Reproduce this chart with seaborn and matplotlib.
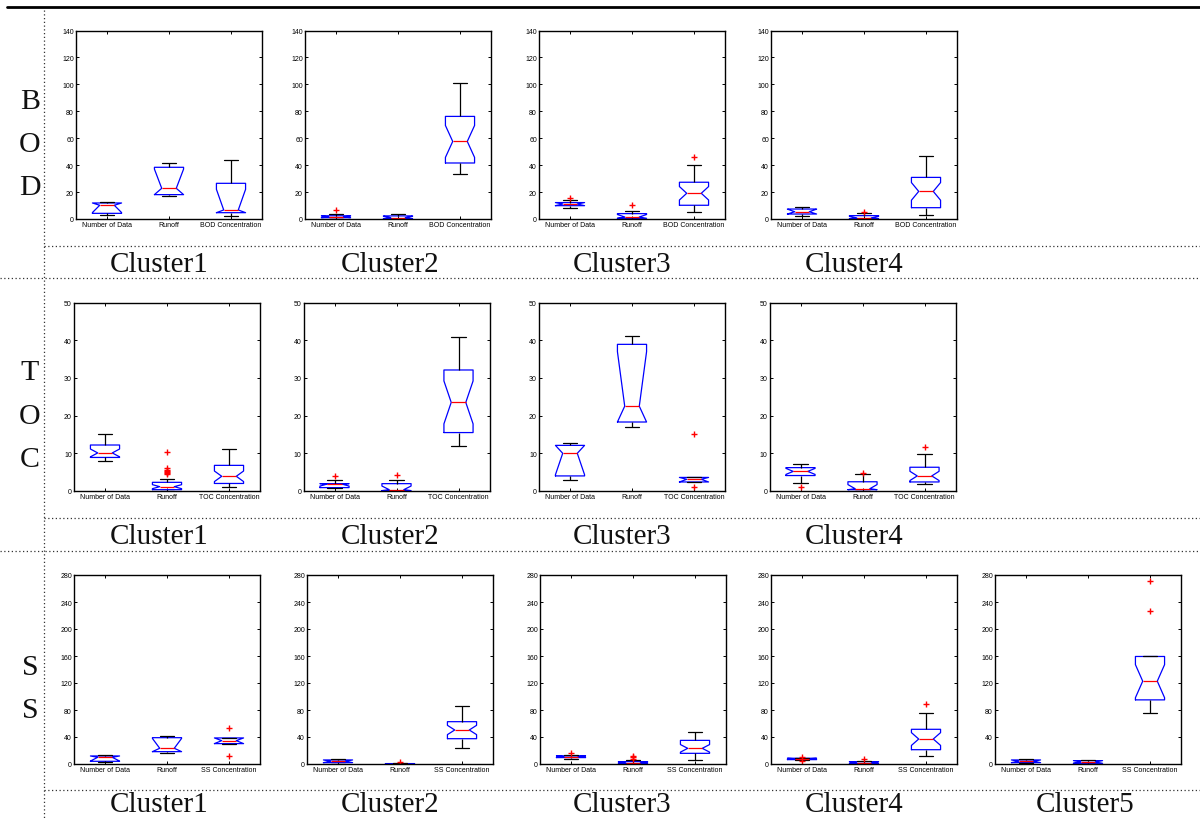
import matplotlib
matplotlib.use("Agg")
import matplotlib.pyplot as plt
import numpy as np
import pandas as pd
import seaborn as sns
from matplotlib.lines import Line2D

# ---------------- data ----------------
VAR_LABELS = ["Number of Data", "Runoff"]
ROW_NAMES = ["BOD", "TOC", "SS"]
ROW_YMAX = [140, 50, 280]
ROW_YSTEP = [20, 10, 40]
CLUSTER_NAMES = ["Cluster1", "Cluster2", "Cluster3", "Cluster4", "Cluster5"]

# BOD
bod_c1_number = [3.0, 4.2, 10.2, 11.9, 12.9]
bod_c1_runoff = [16.9, 18.1, 22.8, 38.4, 41.4]
bod_c1_conc = [2.0, 4.7, 6.7, 26.5, 44.1]

bod_c2_number = [0.2, 0.6, 1.0, 1.2, 1.5, 1.9, 2.4, 3.6, 6.9]
bod_c2_runoff = [0.0, 0.1, 0.3, 0.6, 1.0, 1.5, 2.3, 3.0, 3.5]
bod_c2_conc = [33.4, 35.0, 37.0, 39.0, 40.5, 41.6, 45.0, 49.0, 52.0, 55.0, 57.6,
               61.0, 65.0, 69.0, 73.0, 76.2, 80.0, 84.0, 89.0, 95.0, 100.9]

bod_c3_number = [7.9, 9.3, 9.9, 10.5, 11.1, 11.7, 12.2, 13.8, 15.5]
bod_c3_runoff = [0.0, 0.2, 0.5, 1.0, 1.5, 2.5, 4.0, 6.0, 10.4]
bod_c3_conc = [5.5, 6.5, 7.3, 8.0, 8.6, 9.2, 9.7, 10.2, 11.5, 12.8, 14.0, 15.3,
               16.6, 17.9, 19.1, 20.3, 21.4, 22.5, 23.6, 24.8, 26.0, 27.3, 29.0,
               31.0, 33.5, 36.0, 38.2, 40.4, 45.8]

bod_c4_number = [2.0, 3.0, 3.7, 4.6, 5.4, 6.3, 7.4, 8.2, 8.9]
bod_c4_runoff = [0.0, 0.1, 0.3, 0.5, 0.8, 1.5, 2.5, 4.3, 5.3]
bod_c4_conc = [3.2, 4.0, 4.8, 5.5, 6.2, 6.9, 7.6, 8.4, 10.0, 11.7, 13.4, 15.1,
               16.9, 18.7, 20.5, 22.0, 23.5, 25.0, 26.5, 28.0, 29.5, 30.9, 33.0,
               35.0, 37.5, 40.0, 42.5, 45.0, 47.0]

# TOC
toc_c1_number = [8.05, 8.2, 8.35, 8.5, 8.6, 8.75, 8.9, 9.1, 9.3, 9.5, 9.7, 9.9,
                 10.1, 10.4, 10.7, 11.0, 11.4, 11.8, 12.2, 12.6, 13.0, 13.5,
                 14.0, 14.5, 15.0]
toc_c1_runoff = [0.0, 0.05, 0.1, 0.15, 0.2, 0.25, 0.28, 0.32, 0.35, 0.45, 0.55,
                 0.65, 0.75, 0.85, 0.95, 1.05, 1.15, 1.3, 1.45, 1.6, 1.75, 1.9,
                 2.05, 2.2, 2.3, 3.3, 4.5, 4.8, 5.1, 5.4, 5.7, 6.0, 10.4]
toc_c1_conc = [1.15, 1.3, 1.45, 1.55, 1.7, 1.8, 1.9, 2.0, 2.25, 2.5, 2.8, 3.05,
               3.35, 3.6, 3.9, 4.3, 4.7, 5.1, 5.5, 5.9, 6.35, 6.8, 7.4, 8.0,
               8.6, 9.2, 9.8, 10.5, 11.2]

toc_c2_number = [0.9, 0.9, 0.9, 1.4, 1.85, 1.9, 1.95, 2.9, 4.1]
toc_c2_runoff = [0.0, 0.05, 0.1, 0.2, 0.35, 1.0, 1.95, 3.0, 4.3]
toc_c2_conc = [11.9, 12.7, 13.4, 14.1, 14.8, 15.5, 17.0, 18.6, 20.2, 21.8, 23.5,
               25.2, 26.9, 28.6, 30.3, 32.1, 33.8, 35.5, 37.2, 39.0, 40.8]

toc_c3_number = [3.0, 4.0, 10.0, 12.1, 12.8]
toc_c3_runoff = [17.05, 18.3, 22.5, 38.9, 41.1]
toc_c3_conc = [1.0, 2.4, 3.1, 3.6, 15.1]

toc_c4_number = [1.06, 2.1, 3.0, 3.6, 4.1, 4.4, 4.7, 5.0, 5.2, 5.45, 5.7, 5.95,
                 6.2, 6.4, 6.6, 6.85, 7.05]
toc_c4_runoff = [0.0, 0.15, 0.35, 0.5, 0.6, 1.3, 2.45, 4.4, 4.9]
toc_c4_conc = [1.8, 1.9, 2.0, 2.1, 2.2, 2.3, 2.4, 2.65, 2.9, 3.15, 3.45, 3.7,
               4.0, 4.35, 4.7, 5.1, 5.5, 5.9, 6.3, 6.9, 7.5, 8.2, 8.9, 9.7, 11.6]

# SS
ss_c1_number = [2.5, 4.0, 9.9, 11.9, 12.9]
ss_c1_runoff = [16.8, 18.3, 23.3, 39.0, 41.0]
ss_c1_conc = [11.9, 30.2, 34.6, 38.6, 53.4]

ss_c2_number = [0.5, 1.2, 2.0, 3.0, 4.0, 5.0, 6.0, 7.0, 7.5]
ss_c2_runoff = [0.0, 0.0, 0.0, 0.1, 0.2, 0.4, 0.6, 1.0, 3.0]
ss_c2_conc = [23.2, 25.0, 27.0, 29.0, 31.0, 32.8, 34.5, 36.0, 37.5, 39.0, 40.6,
              42.2, 43.8, 45.4, 47.0, 48.7, 50.4, 52.0, 53.5, 55.0, 56.5, 58.0,
              59.6, 61.2, 62.7, 65.0, 68.0, 71.0, 74.0, 77.0, 80.0, 83.0, 86.4]

ss_c3_number = [8.0, 9.0, 9.5, 10.3, 11.0, 11.5, 12.0, 14.0, 16.0]
ss_c3_runoff = [0.0, 0.1, 0.2, 0.35, 0.5, 0.75, 1.0, 1.25, 1.5, 2.0, 2.5, 3.0,
                3.5, 5.5, 7.5, 10.0, 12.0]
ss_c3_conc = [6.4, 8.0, 9.5, 11.0, 12.3, 13.6, 14.7, 15.8, 16.8, 17.8, 18.8, 19.9,
              21.0, 22.1, 23.2, 24.9, 26.6, 28.3, 30.0, 31.7, 33.4, 35.0, 36.7,
              38.4, 40.1, 41.8, 43.5, 45.2, 46.9]

ss_c4_number = [4.0, 5.5, 6.5, 7.2, 7.8, 8.2, 8.5, 9.5, 11.0]
ss_c4_runoff = [0.0, 0.2, 0.5, 1.0, 1.5, 2.5, 3.5, 5.0, 7.0]
ss_c4_conc = [12.3, 13.8, 15.3, 16.8, 18.3, 19.8, 21.2, 23.8, 26.4, 29.0, 31.6,
              34.3, 37.0, 39.4, 41.8, 44.2, 46.6, 49.0, 51.4, 56.0, 60.5, 65.0,
              70.0, 75.6, 88.4]

ss_c5_number = [1.0, 1.5, 2.0, 3.0, 4.0, 5.0, 6.0, 6.5, 7.0]
ss_c5_runoff = [0.5, 0.8, 1.0, 2.0, 3.0, 4.0, 5.0, 5.3, 5.5]
ss_c5_conc = [75.7, 80.5, 85.5, 90.5, 95.0, 102.0, 109.0, 116.0, 122.7, 132.0,
              141.0, 150.0, 159.3, 159.3, 159.3, 226.6, 271.2]

PANELS = {
    "BOD": [(bod_c1_number, bod_c1_runoff, bod_c1_conc),
            (bod_c2_number, bod_c2_runoff, bod_c2_conc),
            (bod_c3_number, bod_c3_runoff, bod_c3_conc),
            (bod_c4_number, bod_c4_runoff, bod_c4_conc)],
    "TOC": [(toc_c1_number, toc_c1_runoff, toc_c1_conc),
            (toc_c2_number, toc_c2_runoff, toc_c2_conc),
            (toc_c3_number, toc_c3_runoff, toc_c3_conc),
            (toc_c4_number, toc_c4_runoff, toc_c4_conc)],
    "SS": [(ss_c1_number, ss_c1_runoff, ss_c1_conc),
           (ss_c2_number, ss_c2_runoff, ss_c2_conc),
           (ss_c3_number, ss_c3_runoff, ss_c3_conc),
           (ss_c4_number, ss_c4_runoff, ss_c4_conc),
           (ss_c5_number, ss_c5_runoff, ss_c5_conc)],
}

# ---------------- layout (pixels of the 1200x820 canvas) ----------------
W, H = 1200, 820
ROW_AX_TOP = [31.5, 303.5, 576.0]
ROW_AX_BOT = [220.0, 492.0, 765.0]
ROW_AX_LEFTS = [[76, 305, 539, 771],
                [74, 303.5, 539, 769.5],
                [74, 307, 540, 771, 995]]
AX_W = 186
LABEL_X = [159, 390, 622, 854, 1085]
LABEL_BASE = [272, 544, 812]
LETTER_Y = [[102, 145, 188], [373, 417, 460], [668, 711]]

sns.set_theme(style="white")
plt.rcParams["font.family"] = ["Liberation Sans", "DejaVu Sans"]

fig = plt.figure(figsize=(W / 100, H / 100), dpi=100)
fig.patch.set_facecolor("white")

SERIF = ["Liberation Serif", "DejaVu Serif"]


def fx(px):
    return px / W


def fy(py):
    return 1 - py / H


for r, row in enumerate(ROW_NAMES):
    labels = VAR_LABELS + [f"{row} Concentration"]
    for c, (num, run, conc) in enumerate(PANELS[row]):
        left = ROW_AX_LEFTS[r][c]
        top, bot = ROW_AX_TOP[r], ROW_AX_BOT[r]
        ax = fig.add_axes([fx(left), fy(bot), fx(AX_W), (bot - top) / H])
        df = pd.DataFrame(
            [(labels[0], v) for v in num]
            + [(labels[1], v) for v in run]
            + [(labels[2], v) for v in conc],
            columns=["var", "value"],
        )
        sns.boxplot(
            data=df, x="var", y="value", order=labels, ax=ax,
            fill=False, color="blue", width=0.47, whis=1.0,
            shownotches=True, capwidths=0.24,
            boxprops=dict(color="blue", linewidth=0.9),
            medianprops=dict(color="red", linewidth=0.9),
            whiskerprops=dict(color="black", linewidth=0.9),
            capprops=dict(color="black", linewidth=0.9),
            flierprops=dict(marker="+", markeredgecolor="red",
                            markerfacecolor="none", markersize=4.5,
                            markeredgewidth=1.0, linestyle="none"),
        )
        # notches are drawn only inside the box (clip to the quartiles)
        for ln in ax.lines:
            yd = np.asarray(ln.get_ydata(), dtype=float)
            if len(yd) == 11:
                lo, hi = min(yd[0], yd[5]), max(yd[0], yd[5])
                ln.set_ydata(np.clip(yd, lo, hi))
        ax.set_xlim(-0.5, 2.5)
        ax.set_ylim(0, ROW_YMAX[r])
        ax.set_yticks(range(0, ROW_YMAX[r] + 1, ROW_YSTEP[r]))
        ax.set_xlabel("")
        ax.set_ylabel("")
        ax.tick_params(direction="in", top=True, right=True, bottom=True,
                       left=True, length=2.5, width=0.7, colors="black",
                       labelsize=5, pad=1.5)
        for s in ax.spines.values():
            s.set_visible(True)
            s.set_color("black")
            s.set_linewidth(1.0)
        ax.set_facecolor("white")

    # cluster labels
    for c in range(len(PANELS[row])):
        fig.text(fx(LABEL_X[c]), fy(LABEL_BASE[r]), CLUSTER_NAMES[c],
                 ha="center", va="baseline", fontsize=21, family=SERIF,
                 color="#111111")
    # row letters
    for k, ch in enumerate(list(row)):
        fig.text(fx(30), fy(LETTER_Y[r][k]), ch, ha="center", va="center",
                 fontsize=21.5, family=SERIF, color="#111111")

# table lines
dot = (0, (1, 2))
lines = [
    ([7, 1200], [8, 8], dict(color="black", linewidth=2.0)),
    ([43.5, 43.5], [11, 820], dict(color="#333333", linewidth=0.9, linestyle=dot)),
    ([43.5, 1200], [246.5, 246.5], dict(color="#333333", linewidth=0.9, linestyle=dot)),
    ([0, 1200], [279, 279], dict(color="#333333", linewidth=0.9, linestyle=dot)),
    ([43.5, 1200], [518.5, 518.5], dict(color="#333333", linewidth=0.9, linestyle=dot)),
    ([0, 1200], [551.5, 551.5], dict(color="#333333", linewidth=0.9, linestyle=dot)),
    ([43.5, 1200], [790.5, 790.5], dict(color="#333333", linewidth=0.9, linestyle=dot)),
]
for xs, ys, kw in lines:
    fig.add_artist(Line2D([fx(x) for x in xs], [fy(y) for y in ys],
                          transform=fig.transFigure, **kw))

fig.savefig("out.png", dpi=100, facecolor="white")
